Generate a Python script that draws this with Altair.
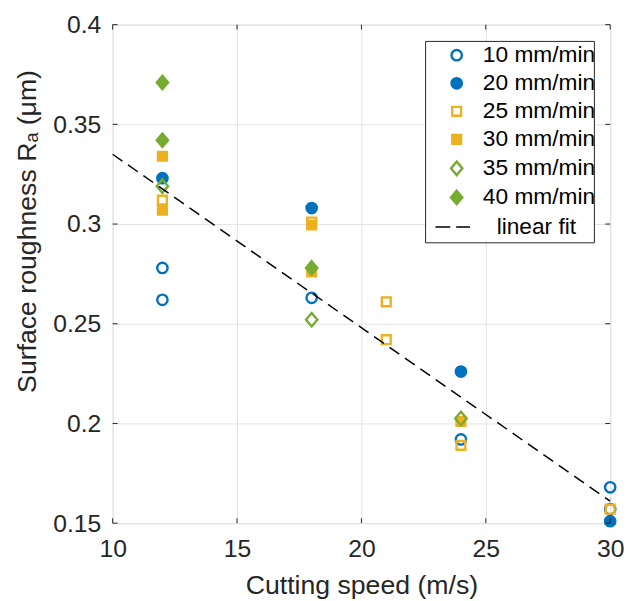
import altair as alt
import pandas as pd

# ---------------- data ----------------
series_names = ["10 mm/min", "20 mm/min", "25 mm/min", "30 mm/min", "35 mm/min", "40 mm/min"]

speed_10 = [12, 12, 18, 24, 30, 30]
ra_10 = [0.278, 0.262, 0.263, 0.192, 0.168, 0.157]

speed_20 = [12, 18, 24, 30]
ra_20 = [0.323, 0.308, 0.226, 0.151]

speed_25 = [12, 18, 21, 21, 24, 30]
ra_25 = [0.312, 0.301, 0.261, 0.242, 0.189, 0.157]

speed_30 = [12, 12, 18, 18, 24]
ra_30 = [0.334, 0.307, 0.2995, 0.276, 0.201]

speed_35 = [12, 18, 24]
ra_35 = [0.319, 0.252, 0.2025]

speed_40 = [12, 12, 18]
ra_40 = [0.371, 0.342, 0.278]

fit_label = "linear fit"
fit_speed = [10, 30]
fit_ra = [0.335, 0.161]

x_ticks = [10, 15, 20, 25, 30]
y_ticks = [0.15, 0.2, 0.25, 0.3, 0.35, 0.4]

# ---------------- styling ----------------
BLUE, ORANGE, GREEN = "#0072BD", "#EDB120", "#77AC30"
AX = "#262626"
FONT = "Liberation Sans"
SQ = "M-0.85,-0.85L0.85,-0.85L0.85,0.85L-0.85,0.85Z"
DI = "M0,-1.3L1.1,0L0,1.3L-1.1,0Z"

W, H = 504, 505

rows = []
all_x = [speed_10, speed_20, speed_25, speed_30, speed_35, speed_40]
all_y = [ra_10, ra_20, ra_25, ra_30, ra_35, ra_40]
for name, xs, ys in zip(series_names, all_x, all_y):
    for xv, yv in zip(xs, ys):
        rows.append({"series": name, "speed": xv, "ra": yv})
pts = pd.DataFrame(rows)

fit_df = pd.DataFrame({"speed": fit_speed, "ra": fit_ra, "label": [fit_label] * len(fit_speed)})
xt_df = pd.DataFrame({"speed": x_ticks})
yt_df = pd.DataFrame({"ra": y_ticks})
box_df = pd.DataFrame({"k": [0]})

series_legend = alt.Legend(
    title=None, orient="none", legendX=337, legendY=19.5, padding=0,
    labelFontSize=23, labelFont=FONT, labelColor="black", labelOffset=15,
    symbolSize=110, symbolStrokeWidth=2.4, rowPadding=4.4, labelLimit=300,
)

x_enc = alt.X(
    "speed:Q",
    scale=alt.Scale(domain=[10, 30], nice=False, zero=False),
    axis=alt.Axis(
        values=x_ticks, format="d", title="Cutting speed (m/s)", grid=True,
        gridColor="#e3e3e3", domain=False, ticks=False, labelPadding=14,
        labelFontSize=25, labelFont=FONT, labelColor=AX,
        titleFontSize=27, titleFont=FONT, titleColor=AX, titleFontWeight="normal",
        titleY=71, titleBaseline="alphabetic", labelFlush=False,
    ),
)
y_enc = alt.Y(
    "ra:Q",
    scale=alt.Scale(domain=[0.15, 0.4], nice=False, zero=False),
    axis=alt.Axis(
        values=y_ticks, format=".2~f", title="Surface roughness Rₐ  (μm)", grid=True,
        gridColor="#e3e3e3", domain=False, ticks=False, labelPadding=12,
        labelFontSize=25, labelFont=FONT, labelColor=AX,
        titleFontSize=27, titleFont=FONT, titleColor=AX, titleFontWeight="normal",
        titleAngle=270, titleX=-78, titleY=209, titleBaseline="alphabetic",
        titleAlign="center", labelFlush=False,
    ),
)

points = alt.Chart(pts).mark_point(strokeWidth=2.4, size=110, opacity=1).encode(
    x=x_enc,
    y=y_enc,
    shape=alt.Shape("series:N", sort=series_names,
                    scale=alt.Scale(domain=series_names, range=["circle", "circle", SQ, SQ, DI, DI]),
                    legend=series_legend),
    stroke=alt.Stroke("series:N", sort=series_names,
                      scale=alt.Scale(domain=series_names, range=[BLUE, BLUE, ORANGE, ORANGE, GREEN, GREEN]),
                      legend=series_legend),
    fill=alt.Fill("series:N", sort=series_names,
                  scale=alt.Scale(domain=series_names,
                                  range=["transparent", BLUE, "transparent", ORANGE, "transparent", GREEN]),
                  legend=series_legend),
)

fit = alt.Chart(fit_df).mark_line(strokeDash=[12, 7], strokeWidth=1.5).encode(
    x="speed:Q",
    y="ra:Q",
    color=alt.Color("label:N", scale=alt.Scale(range=["black"]),
                    legend=alt.Legend(
                        title=None, orient="none", legendX=326, legendY=186.5, padding=0,
                        labelFontSize=23, labelFont=FONT, labelColor="black", labelOffset=26,
                        symbolType="stroke", symbolSize=1225, symbolStrokeWidth=1.5,
                        symbolDash=[15, 6], symbolStrokeColor="black",
                    )),
)

tick_bottom = alt.Chart(xt_df).mark_rule(color=AX, strokeWidth=1).encode(
    x="speed:Q", y=alt.value(H), y2=alt.value(H - 5))
tick_top = alt.Chart(xt_df).mark_rule(color=AX, strokeWidth=1).encode(
    x="speed:Q", y=alt.value(0), y2=alt.value(5))
tick_left = alt.Chart(yt_df).mark_rule(color=AX, strokeWidth=1).encode(
    y="ra:Q", x=alt.value(0), x2=alt.value(5))
tick_right = alt.Chart(yt_df).mark_rule(color=AX, strokeWidth=1).encode(
    y="ra:Q", x=alt.value(W), x2=alt.value(W - 5))

legend_box = alt.Chart(box_df).mark_rect(fill="white", stroke=AX, strokeWidth=1).encode(
    x=alt.value(317), x2=alt.value(488), y=alt.value(17), y2=alt.value(221))

chart = alt.layer(
    points, fit, tick_bottom, tick_top, tick_left, tick_right, legend_box
).properties(
    width=W, height=H,
    autosize=alt.AutoSizeParams(type="none"),
    padding={"left": 106, "top": 13, "right": 15, "bottom": 75},
).configure_view(
    stroke=AX, strokeWidth=1
).configure(background="white")

chart.save("out.html", embed_options={"renderer": "svg", "actions": False})
